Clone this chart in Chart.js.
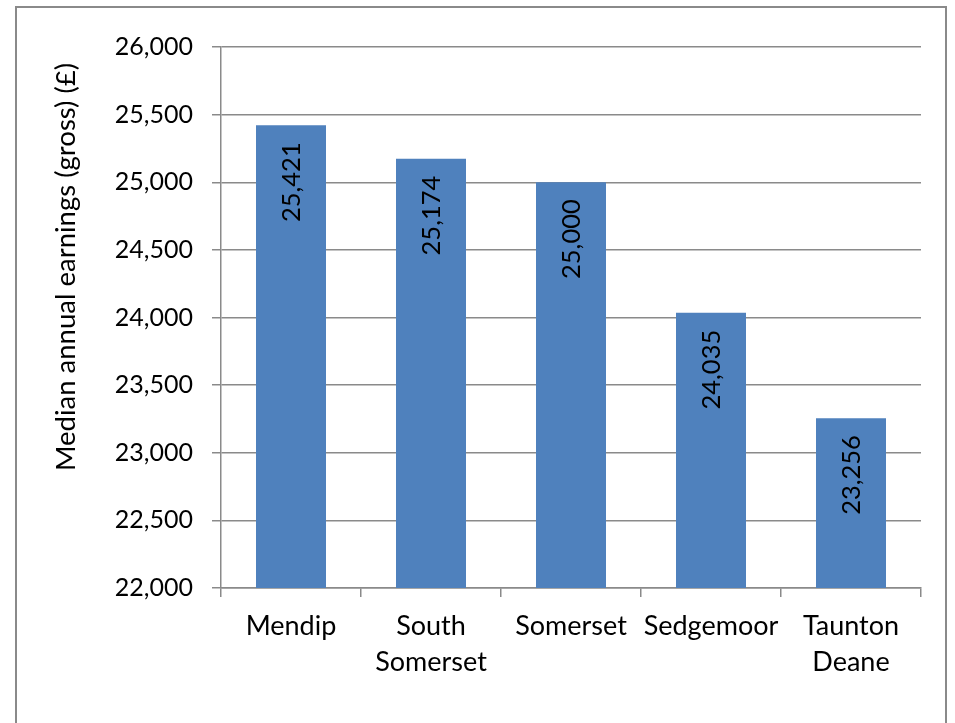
<!DOCTYPE html>
<html>
<head>
<meta charset="utf-8">
<script src="https://cdn.jsdelivr.net/npm/chart.js@4/dist/chart.umd.min.js"></script>
<style>
  body { margin: 0; background: #fff; }
  #wrap { position: relative; width: 955px; height: 723px; overflow: hidden; }
  #frame { position: absolute; left: 15px; top: 6px; width: 932px; height: 760px; border: 2px solid #8a8a8a; box-sizing: border-box; }
  canvas { position: absolute; left: 0; top: 0; }
</style>
</head>
<body>
<div id="wrap">
  <div id="frame"></div>
  <canvas id="earnings" width="955" height="723"></canvas>
</div>
<script>
// median annual earnings by district
const districts = [["Mendip"], ["South", "Somerset"], ["Somerset"], ["Sedgemoor"], ["Taunton", "Deane"]];
const earnings = [25421, 25174, 25000, 24035, 23256];
const yTicks = [22000, 22500, 23000, 23500, 24000, 24500, 25000, 25500, 26000];
const yTitle = "Median annual earnings (gross) (£)";

const FONT = "Lato";
const fmt = v => v.toLocaleString("en-US");

// value written sideways just inside the top of each bar
const barValues = {
  id: "barValues",
  afterDatasetsDraw(chart) {
    const ctx = chart.ctx;
    const meta = chart.getDatasetMeta(0);
    ctx.save();
    ctx.font = "25.5px " + FONT;
    ctx.fillStyle = "#000";
    ctx.textAlign = "right";
    ctx.textBaseline = "middle";
    meta.data.forEach((bar, i) => {
      ctx.save();
      ctx.translate(bar.x + 1, bar.y + 17);
      ctx.rotate(-Math.PI / 2);
      ctx.fillText(fmt(earnings[i]), 0, 0);
      ctx.restore();
    });
    ctx.restore();
  }
};

// axis title, sitting a little above the middle of the plot
const axisTitle = {
  id: "axisTitle",
  afterDraw(chart) {
    const ctx = chart.ctx;
    ctx.save();
    ctx.font = "27.5px " + FONT;
    ctx.fillStyle = "#000";
    ctx.textAlign = "center";
    ctx.textBaseline = "middle";
    ctx.translate(66, 267);
    ctx.rotate(-Math.PI / 2);
    ctx.fillText(yTitle, 0, 0);
    ctx.restore();
  }
};

new Chart(document.getElementById("earnings"), {
  type: "bar",
  data: {
    labels: districts,
    datasets: [{
      data: earnings,
      backgroundColor: "#4f81bd",
      borderWidth: 0,
      categoryPercentage: 0.5,
      barPercentage: 1
    }]
  },
  options: {
    responsive: false,
    animation: false,
    layout: { padding: { top: 47, right: 34, left: 0, bottom: 0 } },
    plugins: { legend: { display: false }, tooltip: { enabled: false } },
    scales: {
      x: {
        afterFit(scale) { scale.height = 135; },
        grid: { drawOnChartArea: false, drawTicks: true, tickLength: 9, color: "#8a8a8a", lineWidth: 1.5 },
        border: { color: "#8a8a8a", width: 1.5 },
        ticks: { color: "#000", font: { family: FONT, size: 27, lineHeight: 1.34 }, padding: 11, maxRotation: 0, autoSkip: false }
      },
      y: {
        min: 22000,
        max: 26000,
        afterFit(scale) { scale.width = 221; },
        afterBuildTicks(scale) { scale.ticks = yTicks.map(v => ({ value: v })); },
        grid: { color: "#8a8a8a", lineWidth: 1.5, tickLength: 9 },
        border: { color: "#8a8a8a", width: 1.5 },
        ticks: { color: "#000", font: { family: FONT, size: 25 }, padding: 19, callback: v => fmt(v) }
      }
    }
  },
  plugins: [barValues, axisTitle]
});
</script>
</body>
</html>
